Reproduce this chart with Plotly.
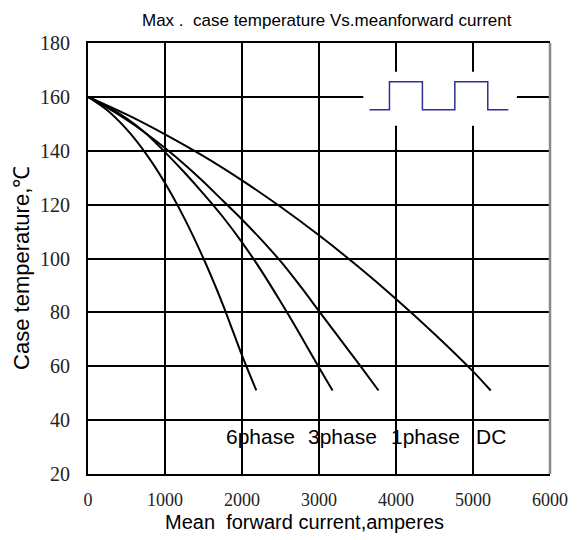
import plotly.graph_objects as go

# ---- data ----
x_6phase = [0, 250, 500, 750, 1000, 1250, 1500, 1750, 2000, 2186]
t_6phase = [160, 155, 148, 139, 128, 115, 100, 83, 64, 51]

x_3phase = [0, 250, 500, 750, 1000, 1250, 1500, 1750, 2000, 2250, 2500, 2750, 3000, 3176]
t_3phase = [160, 156.5, 152, 146.5, 139.5, 132, 124, 115.5, 106, 95.5, 84, 72, 59.5, 51]

x_1phase = [0, 250, 500, 750, 1000, 1250, 1500, 1750, 2000, 2250, 2500, 2750, 3000, 3250, 3500, 3773]
t_1phase = [160, 156, 151.5, 146.5, 141, 135, 128.5, 121.5, 114.5, 107, 99, 90, 80.5, 71, 61.5, 51]

x_dc = [0, 500, 1000, 1500, 2000, 2500, 3000, 3500, 4000, 4500, 5000, 5230]
t_dc = [160, 153.5, 146.1, 138, 129, 119.2, 108.6, 97.2, 85, 72, 58.1, 51]

series_names = ["6phase", "3phase", "1phase", "DC"]
label_x = [2244, 3302, 4379, 5228]
label_y = [34.1, 34.1, 34.1, 34.1]

x_ticks = [0, 1000, 2000, 3000, 4000, 5000, 6000]
y_ticks = [20, 40, 60, 80, 100, 120, 140, 160, 180]

# waveform inset (schematic square wave)
wave_x = [3656, 3915, 3915, 4343, 4343, 4764, 4764, 5192, 5192, 5459]
wave_y = [155.2, 155.2, 165.6, 165.6, 155.2, 155.2, 165.6, 165.6, 155.2, 155.2]

title_text = "Max .  case temperature Vs.meanforward current"
x_title = "Mean  forward current,amperes"
y_title = "Case temperature,\u2103"

SANS = "Liberation Sans, Arial, sans-serif"
SERIF = "Liberation Serif, Times New Roman, serif"

fig = go.Figure()
for xs, ts, nm in [(x_6phase, t_6phase, "6phase"), (x_3phase, t_3phase, "3phase"),
                   (x_1phase, t_1phase, "1phase"), (x_dc, t_dc, "DC")]:
    fig.add_trace(go.Scatter(x=xs, y=ts, mode="lines", name=nm,
                             line=dict(color="black", width=2, shape="spline", smoothing=0.8),
                             hoverinfo="skip"))

fig.add_trace(go.Scatter(x=wave_x, y=wave_y, mode="lines",
                         line=dict(color="#2f2f96", width=1.5), hoverinfo="skip"))

# white box behind the waveform (hides grid lines)
fig.add_shape(type="rect", xref="x", yref="y", x0=3575, x1=5570, y0=149.3, y1=169.3,
              fillcolor="white", line=dict(width=0), layer="between")
# grey right border
fig.add_shape(type="line", xref="paper", yref="paper", x0=1, x1=1, y0=0, y1=1,
              line=dict(color="#8a8a8a", width=2.5), layer="above")

for nm, lx, ly in zip(series_names, label_x, label_y):
    fig.add_annotation(x=lx, y=ly, xref="x", yref="y", text=nm, showarrow=False,
                       font=dict(family=SANS, size=21, color="black"),
                       xanchor="center", yanchor="middle")

fig.add_annotation(x=0.517, y=1.053, xref="paper", yref="paper", text=title_text,
                   showarrow=False, font=dict(family=SANS, size=17, color="black"),
                   xanchor="center", yanchor="middle")
fig.add_annotation(x=0.469, y=-0.111, xref="paper", yref="paper", text=x_title,
                   showarrow=False, font=dict(family=SANS, size=20, color="black"),
                   xanchor="center", yanchor="middle")
fig.add_annotation(x=-0.143, y=0.478, xref="paper", yref="paper", text=y_title,
                   showarrow=False, textangle=-90, font=dict(family=SANS, size=22, color="black"),
                   xanchor="center", yanchor="middle")

fig.update_xaxes(range=[0, 6000], tickvals=x_ticks, ticktext=[str(v) for v in x_ticks],
                 showgrid=True, gridcolor="black", gridwidth=2,
                 showline=True, linecolor="black", linewidth=2, mirror=True,
                 ticks="", zeroline=False, ticklabelstandoff=8,
                 tickfont=dict(family=SERIF, size=18, color="#222"))
fig.update_yaxes(range=[20, 180], tickvals=y_ticks, ticktext=[str(v) for v in y_ticks],
                 showgrid=True, gridcolor="black", gridwidth=2,
                 showline=True, linecolor="black", linewidth=2, mirror=False,
                 ticks="", zeroline=False, ticklabelstandoff=12,
                 tickfont=dict(family=SERIF, size=20, color="#222"))

fig.update_layout(width=587, height=540, showlegend=False,
                  margin=dict(l=80, r=45, t=35, b=74),
                  plot_bgcolor="white", paper_bgcolor="white")

fig.write_html("out.html")
